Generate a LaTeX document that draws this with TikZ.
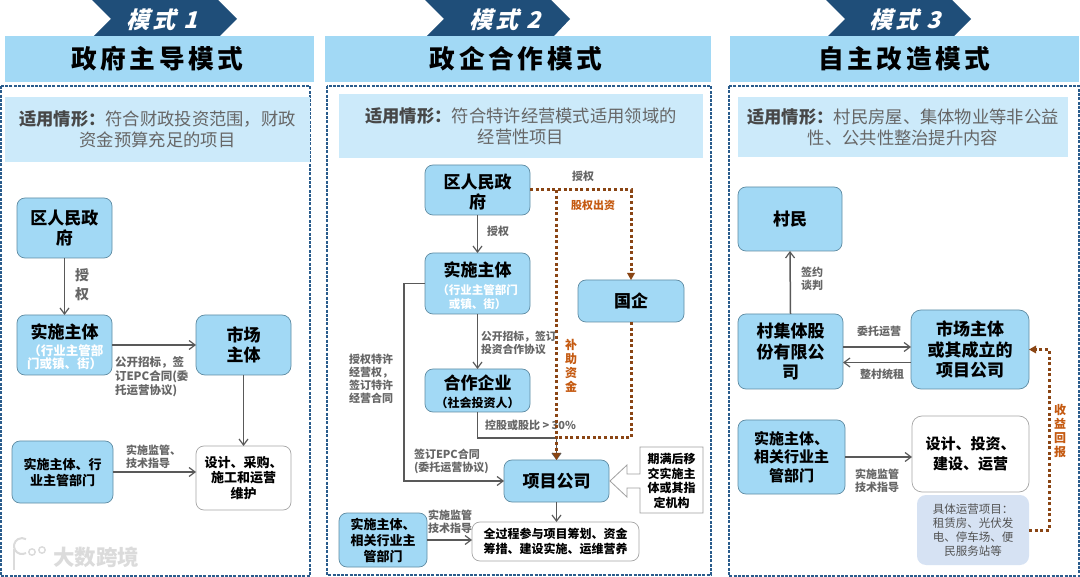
\documentclass[tikz,border=0pt]{standalone}
\usepackage{fontspec}
\usetikzlibrary{arrows.meta,calc}
\setmainfont{Noto Sans CJK SC}
\newfontfamily\titlefont[LetterSpace=14]{Noto Sans CJK SC}
\newfontfamily\chevfont[FakeSlant=0.28,LetterSpace=12]{Noto Sans CJK SC}
\newcommand{\fsz}[2]{\fontsize{#1pt}{#2pt}\selectfont}
\newcommand{\pushdown}[1]{\rule{0pt}{#1pt}}
\definecolor{boxblue}{HTML}{A2D9F5}
\definecolor{bandblue}{HTML}{CCEAFA}
\definecolor{navy}{HTML}{1F4E79}
\definecolor{frameblue}{HTML}{2A5C8C}
\definecolor{boxedge}{HTML}{5F8CA3}
\definecolor{txtgray}{HTML}{666666}
\definecolor{linegray}{HTML}{595959}
\definecolor{brownline}{HTML}{8A4514}
\definecolor{orangetxt}{HTML}{C55A11}
\definecolor{paleblue}{HTML}{D6E2F3}
\tikzset{
  x=1pt,y=-1pt,
  every node/.style={inner sep=0pt,outer sep=0pt,align=center},
  hdr/.style={fill=boxblue,minimum height=46pt,font=\titlefont\fsz{25.7}{30}\bfseries,text=black},
  chev/.style={fill=navy},
  chevtxt/.style={font=\chevfont\fsz{23}{26}\bfseries,text=white},
  frame/.style={draw=frameblue,line width=1.3pt,dash pattern=on 3pt off 1.3pt},
  band/.style={fill=bandblue,font=\fsz{17.3}{21},text=txtgray},
  bluebox/.style={draw=boxedge,fill=boxblue,line width=.7pt,rounded corners=8pt,text=black,font=\fsz{17}{20.5}\bfseries},
  whitebox/.style={draw=gray!70,fill=white,line width=.7pt,rounded corners=8pt,text=black,font=\fsz{13}{15.5}\bfseries},
  lbl/.style={text=txtgray,font=\fsz{11}{13}\bfseries},
  arr/.style={draw=linegray,line width=1.5pt,-{Straight Barb[length=6pt,width=9pt,line width=1.2pt]}},
  dots/.style={draw=brownline,line width=3pt,dash pattern=on 3pt off 2.6pt},
  dotarr/.style={dots,-{Triangle[length=7pt,width=8pt,fill=brownline,line width=0pt,sep=0pt]}}
}
\newcommand{\band}[1]{{\bfseries\color{txtgray!70!black}#1}}
\begin{document}
\begin{tikzpicture}
\useasboundingbox (0,0) rectangle (1080,577);
\fill[white] (0,0) rectangle (1080,577);

% chevrons
\fill[chev] (92,0)--(111,19)--(93,37)--(219,37)--(237,19)--(218,0)--cycle;
\fill[chev] (425,0)--(444,19)--(426,37)--(553,37)--(570,19)--(551,0)--cycle;
\fill[chev] (826,0)--(845,19)--(827,37)--(953,37)--(971,19)--(952,0)--cycle;
\node[chevtxt] (c1) at (162,20) {模式 1};
\node[chevtxt] (c2) at (505,20) {模式 2};
\node[chevtxt] (c3) at (905,20) {模式 3};

% headers
\node[hdr,minimum width=309pt] (h1) at (159.5,59) {\hspace*{-4pt}政府主导模式};
\node[hdr,minimum width=386pt] (h2) at (518,59) {\hspace*{-4pt}政企合作模式};
\node[hdr,minimum width=349pt] (h3) at (904.5,59) {自主改造模式};

% frames
\draw[frame] (1,86) rectangle (310,576);
\draw[frame] (327,86) rectangle (711,575);
\draw[frame] (729,86) rectangle (1079,576);

% bands
\node[band,minimum width=305pt,minimum height=65pt] (b1) at (157.5,129.5) {\band{适用情形：}符合财政投资范围，财政\\资金预算充足的项目};
\node[band,minimum width=364pt,minimum height=64pt] (b2) at (521,126) {\band{适用情形：}符合特许经营模式适用领域的\\经营性项目};
\node[band,minimum width=330pt,minimum height=60pt] (b3) at (903,127) {\band{适用情形：}村民房屋、集体物业等非公益\\性、公共性整治提升内容};

% ===== panel 1
\node[bluebox,minimum width=95pt,minimum height=60pt] (a1) at (64.5,228) {区人民政\\府};
\node[bluebox,minimum width=95pt,minimum height=60pt] (a2) at (64.5,345) {\pushdown{19}实施主体\\[-3.5pt]{\color{white}\fsz{12.5}{14}\ （行业主管部}\\[-7.5pt]{\color{white}\fsz{12.5}{14}门或镇、街）}};
\node[bluebox,minimum width=95pt,minimum height=60pt,rounded corners=9pt] (a3) at (243.5,345) {市场\\主体};
\node[bluebox,minimum width=101pt,minimum height=62pt,font=\fsz{13}{16}\bfseries] (a4) at (62.5,472) {实施主体、行\\业主管部门};
\node[whitebox,minimum width=95pt,minimum height=64pt] (a5) at (243.5,478) {设计、采购、\\施工和运营\\维护};
\draw[arr] (a1.south) -- (a2.north);
\draw[arr] (a2.east) -- (a3.west);
\draw[arr] (a3.south) -- (a5.north);
\draw[arr] (a4.east) -- (a4.east -| a5.west);
\node[lbl,font=\fsz{14}{19}\bfseries] (l1) at (82,285) {授\\权};
\node[lbl,anchor=north west,align=left,font=\fsz{11.5}{14}\bfseries] (l2) at (115,357) {公开招标，签\\订EPC合同(委\\托运营协议)};
\node[lbl,anchor=north west,align=left,font=\fsz{11}{12.8}\bfseries] (l3) at (126,445) {实施监管、\\技术指导};

% ===== panel 2
\node[bluebox,minimum width=105pt,minimum height=50pt] (q1) at (477.5,190) {\pushdown{19}区人民政\\府};
\node[bluebox,minimum width=105pt,minimum height=61pt] (q2) at (477.5,283.5) {\pushdown{20}实施主体\\[-2.5pt]{\color{white}\fsz{11.5}{14}（行业主管部门}\\[-6.5pt]{\color{white}\fsz{11.5}{14}或镇、街）}};
\node[bluebox,minimum width=106pt,minimum height=42pt] (q3) at (631,301) {国企};
\node[bluebox,minimum width=105pt,minimum height=43pt] (q4) at (477.5,390.5) {\pushdown{18}合作企业\\[-2.5pt]{\fsz{12}{14}（社会投资人）}};
\node[bluebox,minimum width=105pt,minimum height=42pt] (q5) at (556.5,481) {项目公司};
\node[whitebox,minimum width=167pt,minimum height=39pt,font=\fsz{12}{14.5}\bfseries] (q6) at (555.5,541.5) {全过程参与项目筹划、资金\\筹措、建设实施、运维营养};
\node[bluebox,minimum width=88pt,minimum height=54pt,font=\fsz{13}{16}\bfseries] (q7) at (383,540) {实施主体、\\相关行业主\\管部门};
\draw[draw=gray!75,fill=white,line width=.8pt] (703,447)--(640,447)--(640,474)--(627,474)--(627,465)--(610,481)--(627,497)--(627,488)--(640,488)--(640,513)--(703,513)--cycle;
\node[text=black,font=\fsz{12}{14.5}\bfseries] (q8) at (671.5,481) {期满后移\\交实施主\\体或其指\\定机构};

\coordinate (j1) at (556.5,438);
\draw[arr] (q1.south) -- (q2.north);
\draw[arr] (q2.south) -- (q4.north);
\draw[arr] (q2.west) -- ++(-21,0) |- (q5.west);
\draw[arr] (q4.south) |- (j1) -- (q5.north);
\draw[arr] (q5.south) -- (q5.south |- q6.north);
\draw[arr] (q7.east) -- (q7.east -| q6.west);

\node[lbl] (m1) at (583,176) {授权};
\node[lbl,text=orangetxt] (m2) at (593,205) {股权出资};
\node[lbl] (m3) at (498,231) {授权};
\node[lbl,anchor=north west,align=left,font=\fsz{10.8}{13}\bfseries] (m4) at (481,331) {公开招标，签订\\投资合作协议};
\node[lbl,text=orangetxt,font=\fsz{12}{14}\bfseries] (m5) at (571,366) {补\\助\\资\\金};
\node[lbl,anchor=north west,align=left] (m6) at (349,354.5) {授权特许\\经营权，\\签订特许\\经营合同};
\node[lbl,anchor=west] (m7) at (485,425) {控股或股比 > 30\%};
\node[lbl,anchor=north west,align=left] (m8) at (414,448.5) {签订EPC合同\\(委托运营协议)};
\node[lbl,anchor=north west,align=left] (m9) at (428,509.5) {实施监管\\技术指导};

\draw[dotarr] (q1.east) -| (q3.north);
\draw[dots] (q3.south) |- (j1);
\draw[dotarr] (q1.east -| j1) -- (q5.north);

% ===== panel 3
\node[bluebox,minimum width=104pt,minimum height=64pt] (r1) at (790,219) {村民};
\node[bluebox,minimum width=105pt,minimum height=75pt] (r2) at (790.5,351.5) {村集体股\\份有限公\\司};
\node[bluebox,minimum width=118pt,minimum height=79pt,rounded corners=10pt] (r3) at (970,349.5) {市场主体\\或其成立的\\项目公司};
\node[bluebox,minimum width=107pt,minimum height=74pt,font=\fsz{15}{18.5}\bfseries] (r4) at (791.5,457) {实施主体、\\相关行业主\\管部门};
\node[whitebox,minimum width=117pt,minimum height=76pt,rounded corners=10pt,font=\fsz{15}{19.5}\bfseries] (r5) at (970.5,454) {设计、投资、\\建设、运营};
\node[fill=paleblue,rounded corners=9pt,minimum width=112pt,minimum height=70pt,text=txtgray!80!black,font=\fsz{11.5}{14}] (r6) at (973,530) {具体运营项目：\\租赁房、光伏发\\电、停车场、便\\民服务站等};
\draw[arr] (r2.north) -- (r1.south);
\draw[arr] ([yshift=4.5pt]r2.east) -- ([yshift=2.5pt]r3.west);
\draw[arr] ([yshift=-13pt]r3.west) -- ([yshift=-11pt]r2.east);
\draw[arr] (r4.east) -- (r4.east -| r5.west);
\draw[dotarr] (r6.east) -- ++(20,0) |- (r3.east);
\node[lbl] (n1) at (812,278.5) {签约\\谈判};
\node[lbl] (n2) at (879,331) {委托运营};
\node[lbl] (n3) at (882,374) {整村统租};
\node[lbl] (n4) at (877,480.5) {实施监管\\技术指导};
\node[lbl,text=orangetxt,font=\fsz{12}{14}\bfseries] (n5) at (1060,431) {收\\益\\回\\报};

% watermark
\node[text=gray!28,font=\fsz{21.5}{24}\bfseries] (w1) at (96,557) {大数跨境};
\draw[gray!28,line width=2pt] (14,549) -- (14,570);
\draw[gray!28,line width=2pt] (26,553) arc (60:300:8);
\draw[gray!28,line width=1.4pt] (32,552) circle (3.2);
\draw[gray!28,line width=1.4pt] (42,550) circle (3.2);
\end{tikzpicture}
\end{document}
